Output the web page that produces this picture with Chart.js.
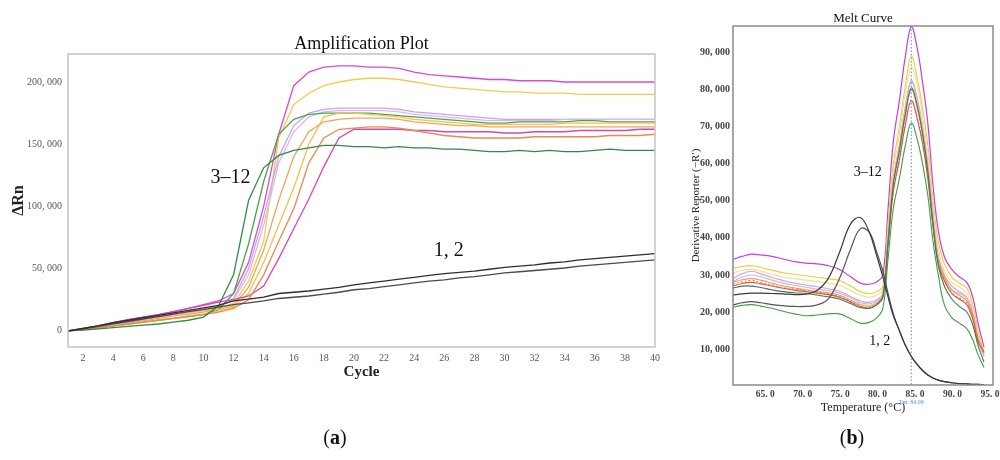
<!DOCTYPE html>
<html>
<head>
<meta charset="utf-8">
<title>Amplification plot and melt curve</title>
<script src="https://cdn.jsdelivr.net/npm/chart.js@4.4.1/dist/chart.umd.min.js"></script>
<style>
  html, body { margin: 0; padding: 0; background: #fff; }
  body { width: 1000px; height: 460px; overflow: hidden; position: relative; font-family: 'Liberation Serif', 'DejaVu Serif', serif; }
  #ampChart { position: absolute; left: 0; top: 0; }
  #meltChart { position: absolute; left: 680px; top: 0; }
  .panel { position: absolute; top: 426px; font-size: 20px; color: #111; transform: translateX(-50%); }
</style>
</head>
<body>
<canvas id="ampChart" width="680" height="460"></canvas>
<canvas id="meltChart" width="340" height="460"></canvas>
<div class="panel" style="left:335px">(<b>a</b>)</div>
<div class="panel" style="left:852px">(<b>b</b>)</div>
<script>
const SERIF = "'Liberation Serif', 'DejaVu Serif', serif";

// ---- (a) amplification plot, values in thousands of ΔRn ----
const ampCycles = [1,2,3,4,5,6,7,8,9,10,11,12,13,14,15,16,17,18,19,20,21,22,23,24,25,26,27,28,29,30,31,32,33,34,35,36,37,38,39,40];
const ampXTicks = [2,4,6,8,10,12,14,16,18,20,22,24,26,28,30,32,34,36,38,40];
const ampYTicks = [0,50,100,150,200];
const ampYLabels = ['0','50, 000','100, 000','150, 000','200, 000'];

const ampNeg1 = [0,2,4,6.5,8.5,10.5,12.5,14.5,16.5,18.5,20.5,24,25.5,27,30,31,32,33.5,35,37,38.5,40,41.5,43,44.5,46,47,48,49.5,51,52,53,54.5,55.5,57,58,59,60,61,62];
const ampNeg2 = [0,1.5,3.5,5.5,7.5,9.5,11.5,13.5,15.5,17,19,21,22.5,24,26,27,28,29.5,31,33,34,35.5,37,38.5,40,41,42.5,43.5,45,46.5,47.5,48.5,49.5,50.5,52,53,54,55,56,57];
const ampMagenta = [0,2,4,6.5,9,11,13,15.5,18,21,24,30,55,100,158,197,208,212,213,213,212,212,211,208,206,205,204,203,202,202,201,201,201,200,200,200,200,200,200,200];
const ampYellow = [0,1,3,5,7,9,11,13,14.5,16,18,22,40,72,155,182,191,197,200,202,203,203,202,200,198,196,195,194,193,192,192,191,191,191,190,190,190,190,190,190];
const ampLavender = [0,1.5,3.5,5.5,7.5,9.5,11.5,13.5,15.5,17.5,20,26,50,92,140,165,175,178,179,179,179,179,178,176,175,174,173,172,171,170,170,170,170,170,170,170,170,170,170,170];
const ampLilac = [0,1.5,3.5,5.5,7.5,9.5,11.5,13.5,15,17,19.5,25,45,85,135,160,172,176,177,177,177,177,176,174,173,172,171,170,169,169,169,169,169,170,170,170,170,170,170,170];
const ampGreen = [0,1,2.5,4,5.5,7,8.5,10,11.5,13,17,30,70,120,158,170,174,175,175,175,175,174,173,172,171,170,169,168,167,167,168,168,168,168,169,169,168,168,168,168];
const ampDarkGreen = [0,0.5,1.5,2.5,3.5,4.5,5.5,7,8.5,11,20,45,105,131,141,145,147,149,149,148,148,147,148,147,147,146,146,145,144,144,145,144,145,144,144,145,146,145,145,145];
const ampOrange = [0,1,2.5,4,6,8,10,12,13.5,15,17,20,35,65,105,140,160,168,170,171,171,171,170,168,167,166,165,165,164,164,164,164,164,164,164,164,164,164,164,164];
const ampDarkOrange = [0,1,2.5,4,5.5,7,8.5,10,11.5,13,15,18,25,45,72,98,135,155,162,163,164,164,163,161,159,157,156,155,155,155,155,156,156,156,156,156,157,157,157,158];
const ampPink = [0,2,4,6.5,9,11,13,15.5,18,20.5,23,25,28,36,58,82,106,132,155,162,162,162,162,161,161,160,160,160,160,159,159,160,160,160,161,161,161,161,162,162];
const ampAmber = [0,1,2.5,4,5.5,7,8.5,10,12,13.5,15.5,19,30,55,85,115,150,172,175,175,174,173,172,170,169,168,167,166,166,166,166,166,166,167,167,167,167,167,167,167];

// ---- (b) melt curve, values in thousands of -R' ----
const meltTemps = [60.3,61.5,62.8,64,65.5,67,68.5,70,71.5,73,74.5,76,77.3,78.5,79.5,80.3,81,81.7,82.5,83.3,84.1,84.9,85.6,86.3,87,87.7,88.5,89.5,90.5,91.5,92.3,93,93.8];
const meltXTicks = [65,70,75,80,85,90,95];
const meltXLabels = ['65. 0','70. 0','75. 0','80. 0','85. 0','90. 0','95. 0'];
const meltYTicks = [10,20,30,40,50,60,70,80,90];
const meltYLabels = ['10, 000','20, 000','30, 000','40, 000','50, 000','60, 000','70, 000','80, 000','90, 000'];
const meltTm = 84.09;

const meltMagenta = [34.2,35,35.6,35.4,35,34.3,33.6,33.2,33,32.5,31.5,29.5,27.8,27.5,28.2,30,48,66,77,89,97,91,82,71,54,42,35,31.5,29.5,28,24,17,10.5];
const meltYellow = [31.8,32.3,32.5,32,31.3,30.6,30.2,29.8,29.4,29,28.5,27,25.5,25,25.5,27,44,60,70,81,89,83,75,65,50,39,33,29.5,27.8,26.5,22,15,9];
const meltPaleYellow = [30.5,31.2,31.5,31,30.2,29.4,29,28.6,28.2,27.8,27.2,25.8,24.5,24,24.6,26,42,58,68,79,86,81,73,63,48,37,31,28,26.8,25,21,14,8.5];
const meltLavender = [29,30.3,31,30.3,29.3,28.5,27.8,27.3,26.8,26.3,25.6,24.2,23,22.6,23.3,25,40.5,56,65,75.5,82.5,77.5,70,60,46,35,30,27,25.5,24,20,13,8];
const meltLilac = [28.3,29.4,30,29.5,28.6,27.8,27.2,26.7,26.2,25.8,25.1,23.8,22.5,22.2,22.9,24.5,40,55.5,64.5,75,82,77,69.5,59.5,45,34,29,26,25,23.5,19.5,12.5,8];
const meltDarkGreen = [26.5,27,27,26.6,26,25.5,25.2,25,24.6,24.1,23.5,22.3,21.2,21,22,24,39,54.5,63.5,73.5,80.5,75.5,68,58,43.5,32.5,27,23.5,21.5,20,16.5,11,6.5];
const meltOrange = [28,28.7,29,28.6,27.8,27,26.5,26,25.6,25.2,24.5,23.2,22,21.6,22.5,24.5,39.5,54.5,63.5,73,80,75,68,58,44,34,29.5,26,24.5,23,19,13,9.5];
const meltRed = [27,27.7,28,27.6,27,26.4,25.9,25.5,25.1,24.7,24,22.7,21.5,21.1,22,24,38.5,52.5,61,70.5,77,72,65.5,56,43,33,28.5,25,23.5,22,18,12,9];
const meltPink = [27.5,28.2,28.5,28,27.3,26.6,26.2,25.8,25.4,25,24.2,22.9,21.7,21.3,22.2,24.2,38.5,52.5,61,70.5,77,72.5,66,56.5,43.5,33.5,28.5,25.2,23.8,22.5,18.5,12.5,9];
const meltGreen = [21.3,21.8,22,21.6,21,20.2,19.5,19,19.2,19.5,19.5,18.2,17,17.2,18.5,21,34.5,48,56,65,71,66.5,60,51.5,39,30,22,18.5,17,15.5,12.5,8.5,5];
const meltNeg1 = [24.6,24.9,25.1,25.1,25,24.9,24.7,24.8,25.8,29,36,43.8,45.5,41.5,35,29.5,24,19,15,11,8,5.8,4.2,3,2.2,1.6,1.2,0.9,0.7,0.6,0.5,0.5,0.4];
const meltNeg2 = [21.9,22.5,22.8,22.5,22,21.7,21.5,21.5,21.9,23.5,29,37,42.5,41.5,36,31,25,19.5,15,11,8,5.8,4.2,3,2.2,1.6,1.2,0.9,0.7,0.6,0.5,0.5,0.4];

// frame, title, group labels and the Tm marker
const decorPlugin = {
  id: 'decor',
  afterDatasetsDraw(chart, args, opts) {
    const { ctx, chartArea: a, scales: { x, y } } = chart;
    ctx.save();
    if (opts.vline) {
      const px = x.getPixelForValue(opts.vline.value);
      ctx.strokeStyle = opts.vline.color;
      ctx.lineWidth = 1;
      ctx.setLineDash([1.5, 2]);
      ctx.beginPath();
      ctx.moveTo(px, a.top);
      ctx.lineTo(px, a.bottom);
      ctx.stroke();
      ctx.setLineDash([]);
      ctx.fillStyle = opts.vline.color;
      ctx.font = '6px ' + SERIF;
      ctx.textAlign = 'center';
      ctx.textBaseline = 'middle';
      ctx.fillText(opts.vline.label, px, a.bottom + 17);
    }
    ctx.strokeStyle = opts.frameColor;
    ctx.lineWidth = opts.frameWidth;
    ctx.strokeRect(a.left, a.top, a.right - a.left, a.bottom - a.top);

    ctx.fillStyle = '#111';
    ctx.textAlign = 'center';
    ctx.textBaseline = 'alphabetic';
    ctx.font = opts.titleFont;
    ctx.fillText(opts.title, (a.left + a.right) / 2, a.top - opts.titleGap);

    ctx.textBaseline = 'middle';
    ctx.font = opts.noteFont;
    opts.notes.forEach(n => {
      ctx.fillText(n.text, x.getPixelForValue(n.x), y.getPixelForValue(n.y));
    });
    ctx.restore();
  }
};

function line(xs, values, color, width, dash) {
  return {
    data: xs.map((v, i) => ({ x: v, y: values[i] })),
    borderColor: color,
    borderWidth: width,
    borderDash: dash || [],
    pointRadius: 0,
    fill: false
  };
}

const ampSets = [
  line(ampCycles, ampNeg1, '#2e2e2e', 1.3),
  line(ampCycles, ampNeg2, '#4a4a4a', 1.3),
  line(ampCycles, ampDarkGreen, '#2f8a45', 1.3),
  line(ampCycles, ampDarkOrange, '#ea8a4e', 1.3),
  line(ampCycles, ampPink, '#dc44b4', 1.3),
  line(ampCycles, ampOrange, '#f3a45c', 1.3),
  line(ampCycles, ampAmber, '#f5c04a', 1.3),
  line(ampCycles, ampGreen, '#45a845', 1.3),
  line(ampCycles, ampLilac, '#dcb6ea', 1.3),
  line(ampCycles, ampLavender, '#c6a3f2', 1.3),
  line(ampCycles, ampYellow, '#f2cc4e', 1.3),
  line(ampCycles, ampMagenta, '#d84ad8', 1.3)
];

new Chart(document.getElementById('ampChart'), {
  type: 'line',
  data: { datasets: ampSets },
  plugins: [decorPlugin],
  options: {
    responsive: false,
    animation: false,
    events: [],
    elements: { line: { tension: 0 } },
    layout: { padding: { top: 54, right: 25, left: 0, bottom: 73 } },
    plugins: {
      legend: { display: false },
      tooltip: { enabled: false },
      decor: {
        frameColor: '#c4c4c4', frameWidth: 1.5,
        title: 'Amplification Plot', titleFont: '18px ' + SERIF, titleGap: 5,
        noteFont: '20px ' + SERIF,
        notes: [{ text: '3\u201312', x: 11.8, y: 123 }, { text: '1, 2', x: 26.3, y: 64 }]
      }
    },
    scales: {
      x: {
        type: 'linear', min: 1, max: 40,
        grid: { display: false, drawTicks: false }, border: { display: false },
        afterBuildTicks: s => { s.ticks = ampXTicks.map(v => ({ value: v })); },
        afterFit: s => { s.height = 40; },
        ticks: { font: { family: SERIF, size: 10 }, color: '#555', padding: 5, maxRotation: 0, autoSkip: false, callback: v => String(v) },
        title: { display: true, text: 'Cycle', color: '#222', font: { family: SERIF, size: 15, weight: 'bold' }, padding: { top: 0, bottom: 6 } }
      },
      y: {
        type: 'linear', min: -13, max: 222.5,
        grid: { display: false, drawTicks: false }, border: { display: false },
        afterBuildTicks: s => { s.ticks = ampYTicks.map(v => ({ value: v })); },
        afterFit: s => { s.width = 68; },
        ticks: { font: { family: SERIF, size: 10 }, color: '#555', padding: 6, autoSkip: false, callback: (v, i) => ampYLabels[i] },
        title: { display: true, text: '\u0394Rn', color: '#222', font: { family: SERIF, size: 16, weight: 'bold' }, padding: { top: 9, bottom: 0 } }
      }
    }
  }
});

const meltSets = [
  line(meltTemps, meltNeg1, '#3a3a3a', 1.2),
  line(meltTemps, meltNeg2, '#555555', 1.2),
  line(meltTemps, meltGreen, '#3f9f45', 1.1),
  line(meltTemps, meltDarkGreen, '#3d7a56', 1.1),
  line(meltTemps, meltRed, '#e6503a', 1.1),
  line(meltTemps, meltPink, '#c98a86', 1.1, [2, 2]),
  line(meltTemps, meltOrange, '#f29c42', 1.1),
  line(meltTemps, meltLilac, '#cbbad8', 1.1),
  line(meltTemps, meltLavender, '#c3a2ef', 1.1),
  line(meltTemps, meltPaleYellow, '#f3e08a', 1.1),
  line(meltTemps, meltYellow, '#f0c93c', 1.1),
  line(meltTemps, meltMagenta, '#c23fe4', 1.2)
];

new Chart(document.getElementById('meltChart'), {
  type: 'line',
  data: { datasets: meltSets },
  plugins: [decorPlugin],
  options: {
    responsive: false,
    animation: false,
    events: [],
    elements: { line: { tension: 0.4 } },
    layout: { padding: { top: 26, right: 27, left: 0, bottom: 40 } },
    plugins: {
      legend: { display: false },
      tooltip: { enabled: false },
      decor: {
        frameColor: '#8a8a8a', frameWidth: 1.5,
        title: 'Melt Curve', titleFont: '13px ' + SERIF, titleGap: 4,
        noteFont: '14px ' + SERIF,
        notes: [{ text: '3\u201312', x: 78.3, y: 57.7 }, { text: '1, 2', x: 79.9, y: 12.2 }],
        vline: { value: meltTm, color: '#5b8bd4', label: 'Tm: 84.09' }
      }
    },
    scales: {
      x: {
        type: 'linear', min: 60.3, max: 95,
        grid: { display: false, drawTicks: false }, border: { display: false },
        afterBuildTicks: s => { s.ticks = meltXTicks.map(v => ({ value: v })); },
        afterFit: s => { s.height = 35; },
        ticks: { font: { family: SERIF, size: 9.5, weight: 'bold' }, color: '#444', padding: 4, labelOffset: -3, maxRotation: 0, autoSkip: false, callback: (v, i) => meltXLabels[i] },
        title: { display: true, text: 'Temperature (\u00B0C)', color: '#222', font: { family: SERIF, size: 12 }, padding: { top: 0, bottom: 5 } }
      },
      y: {
        type: 'linear', min: 0.3, max: 97.2,
        grid: { display: false, drawTicks: false }, border: { display: false },
        afterBuildTicks: s => { s.ticks = meltYTicks.map(v => ({ value: v })); },
        afterFit: s => { s.width = 53; },
        ticks: { font: { family: SERIF, size: 10, weight: 'bold' }, color: '#444', padding: 3, autoSkip: false, callback: (v, i) => meltYLabels[i] },
        title: { display: true, text: 'Derivative Reporter (\u2212R\u2032)', color: '#222', font: { family: SERIF, size: 11 }, padding: { top: 10, bottom: 0 } }
      }
    }
  }
});
</script>
</body>
</html>
